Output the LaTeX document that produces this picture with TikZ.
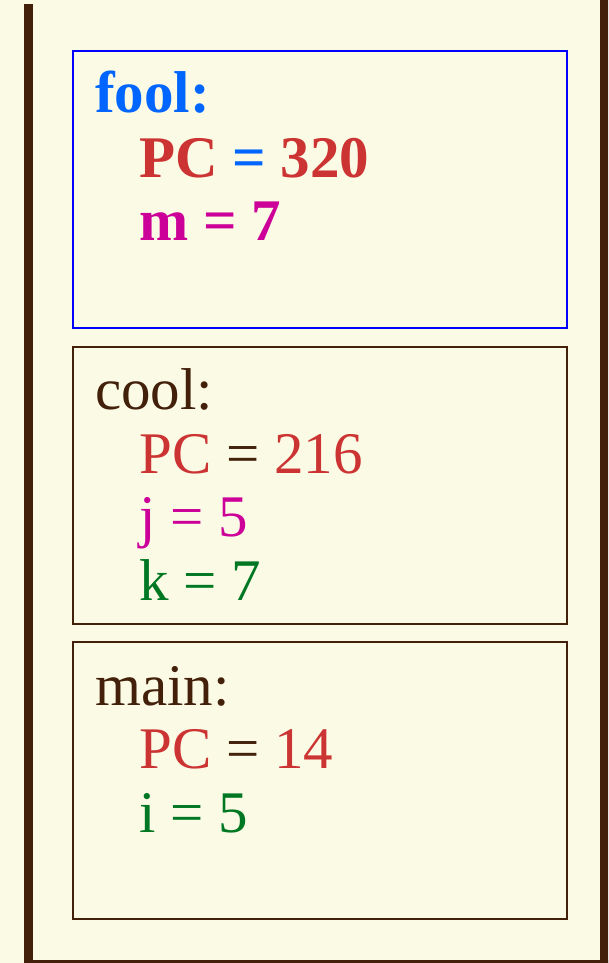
\documentclass[tikz,border=0pt]{standalone}
\usepackage{fontspec}
\setmainfont{Liberation Serif}
\definecolor{paper}{HTML}{FBFAE4}
\definecolor{bark}{HTML}{42200A}
\definecolor{skyblue}{HTML}{0066FF}
\definecolor{pcred}{HTML}{CC3333}
\definecolor{varmag}{HTML}{CC0099}
\definecolor{vargreen}{HTML}{007722}
\tikzset{
  frame/.style={draw=bark, line width=1.6pt, minimum width=494pt, minimum height=277pt, anchor=north west, inner sep=0pt},
  active/.style={frame, draw=blue},
  entry/.style={anchor=base west, inner sep=0pt, font=\fontsize{59}{64}\selectfont}
}
\begin{document}
\begin{tikzpicture}[x=1pt, y=-1pt]
\useasboundingbox (0,0) rectangle (608,963);
\clip (0,0) rectangle (608,963);
\fill[paper] (0,0) rectangle (608,963);
% stack walls
\fill[bark] (24,4) rectangle (33,970);
\fill[bark] (600,0) rectangle (612,970);
\fill[bark] (24,960) rectangle (612,970);
% frames
\node[active] (foolbox) at (72,50) {};
\node[frame] (coolbox) at (72,346) {};
\node[frame] (mainbox) at (72,641) {};
% fool frame
\node[entry, text=skyblue, font=\fontsize{59}{64}\selectfont\bfseries] (foolname) at (95,113) {fool:};
\node[entry, font=\fontsize{59}{64}\selectfont\bfseries] (foolpc) at (139,177) {\textcolor{pcred}{PC} \textcolor{skyblue}{=} \textcolor{pcred}{320}};
\node[entry, text=varmag, font=\fontsize{59}{64}\selectfont\bfseries] (foolm) at (139,240) {m = 7};
% cool frame
\node[entry, text=bark] (coolname) at (95,409) {cool:};
\node[entry] (coolpc) at (139,473) {\textcolor{pcred}{PC} \textcolor{bark}{=} \textcolor{pcred}{216}};
\node[entry, text=varmag] (coolj) at (139,536) {j = 5};
\node[entry, text=vargreen] (coolk) at (139,600) {k = 7};
% main frame
\node[entry, text=bark] (mainname) at (95,705) {main:};
\node[entry] (mainpc) at (139,768) {\textcolor{pcred}{PC} \textcolor{bark}{=} \textcolor{pcred}{14}};
\node[entry, text=vargreen] (maini) at (139,832) {i = 5};
\end{tikzpicture}
\end{document}
